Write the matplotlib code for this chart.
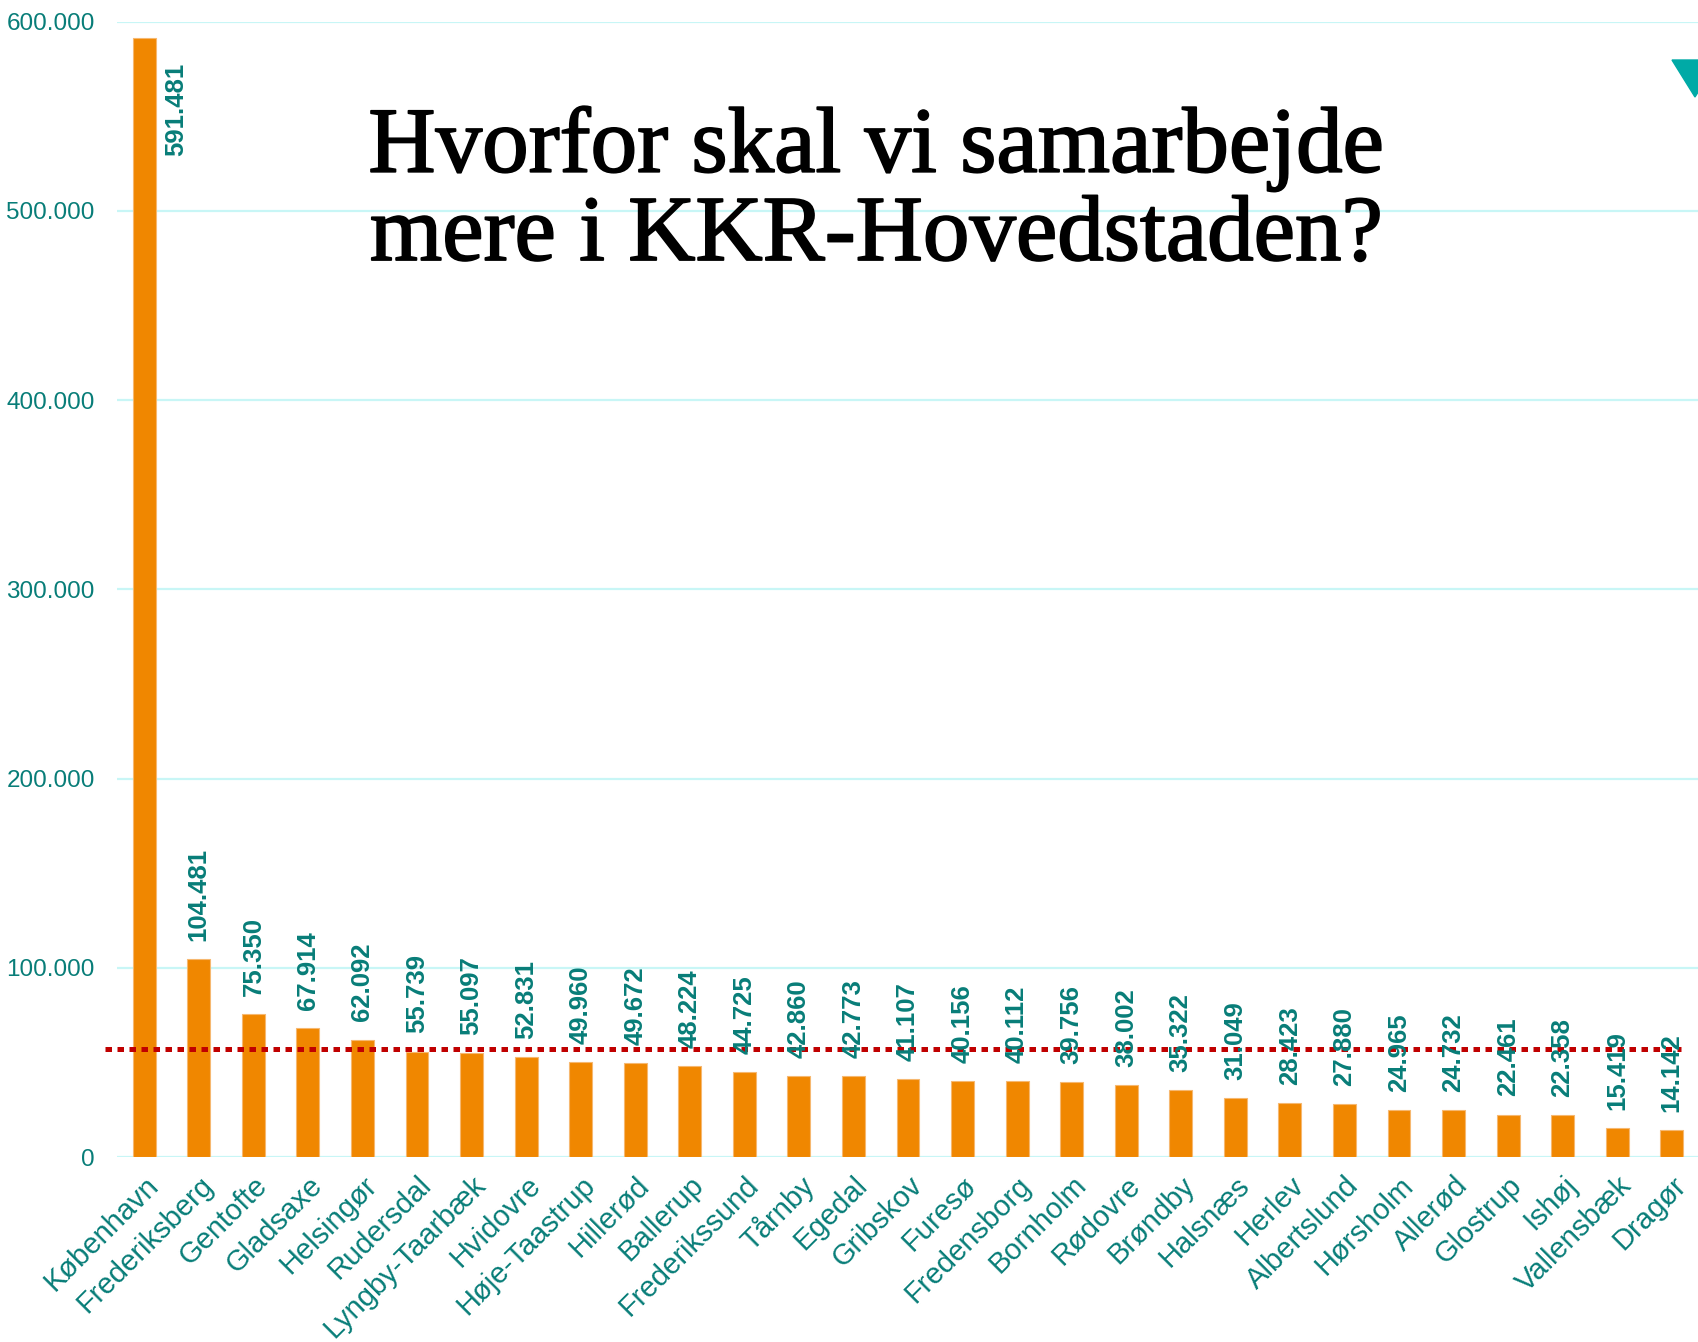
import matplotlib
matplotlib.use("Agg")
import matplotlib.pyplot as plt
import matplotlib.patheffects as pe
from matplotlib.patches import Polygon
from matplotlib.ticker import FuncFormatter

kommuner = ["København", "Frederiksberg", "Gentofte", "Gladsaxe", "Helsingør",
            "Rudersdal", "Lyngby-Taarbæk", "Hvidovre", "Høje-Taastrup", "Hillerød",
            "Ballerup", "Frederikssund", "Tårnby", "Egedal", "Gribskov", "Furesø",
            "Fredensborg", "Bornholm", "Rødovre", "Brøndby", "Halsnæs", "Herlev",
            "Albertslund", "Hørsholm", "Allerød", "Glostrup", "Ishøj", "Vallensbæk",
            "Dragør"]
indbyggere = [591481, 104481, 75350, 67914, 62092, 55739, 55097, 52831, 49960,
              49672, 48224, 44725, 42860, 42773, 41107, 40156, 40112, 39756,
              38002, 35322, 31049, 28423, 27880, 24965, 24732, 22461, 22358,
              15419, 14142]
gennemsnit = 57000
y_ticks = [0, 100000, 200000, 300000, 400000, 500000, 600000]

ORANGE = "#F08700"
TEAL = "#087D78"
GRID = "#C8F6F6"

plt.rcParams['font.family'] = ['Liberation Sans', 'DejaVu Sans']

fig = plt.figure(figsize=(16.99, 13.42), dpi=100)
ax = fig.add_axes([117 / 1699, 185 / 1342, 1 - 117 / 1699, 1135.3 / 1342])

x = range(len(kommuner))
ax.bar(x, indbyggere, width=0.42, color=ORANGE, edgecolor="#F6B870",
       linewidth=0.8, zorder=3)

ax.set_xlim(-0.5, len(kommuner) - 0.5)
ax.set_ylim(0, 600000)
ax.set_yticks(y_ticks)
ax.yaxis.set_major_formatter(FuncFormatter(lambda v, p: f"{int(v):,}".replace(",", ".")))
ax.grid(axis="y", color=GRID, linewidth=1.6, zorder=0)
ax.set_axisbelow(True)
for s in ax.spines.values():
    s.set_visible(False)
ax.tick_params(axis="y", length=0, pad=16, labelsize=17.5, labelcolor=TEAL)
ax.tick_params(axis="x", length=0, pad=10)
ax.set_xticks(list(x))
ax.set_xticklabels(kommuner, rotation=45, ha="right", rotation_mode="anchor",
                   fontsize=21, color=TEAL)

# datalabels
for i, v in enumerate(indbyggere):
    txt = f"{v:,}".replace(",", ".")
    if i == 0:
        ax.annotate(txt, (i, v), xytext=(23, -18), textcoords="offset points",
                    rotation=90, ha="center", va="top", fontsize=18.5,
                    fontweight="bold", color=TEAL, zorder=5)
    else:
        ax.annotate(txt, (i, v), xytext=(0, 13), textcoords="offset points",
                    rotation=90, ha="center", va="bottom", fontsize=18.5,
                    fontweight="bold", color=TEAL, zorder=5)

# gennemsnitslinje
ax.plot([-0.72, len(kommuner) - 0.83], [gennemsnit, gennemsnit], color="#C00000",
        linewidth=3.6, dashes=(1.3, 1.1), clip_on=False, zorder=4)

fig.text(876 / 1699, 1 - 260 / 1342, "Hvorfor skal vi samarbejde\nmere i KKR-Hovedstaden?",
         ha="center", va="baseline", fontsize=67, family="Liberation Serif",
         linespacing=1.05, multialignment="center", color="black",
         path_effects=[pe.withStroke(linewidth=1.3, foreground="black")])

tri = Polygon([(1672 / 1699, 1 - 60 / 1342), (1718 / 1699, 1 - 60 / 1342),
               (1695 / 1699, 1 - 97 / 1342)], closed=True, transform=fig.transFigure,
              color="#00AAA6", clip_on=False)
fig.patches.append(tri)

fig.savefig("out.png", dpi=100)
